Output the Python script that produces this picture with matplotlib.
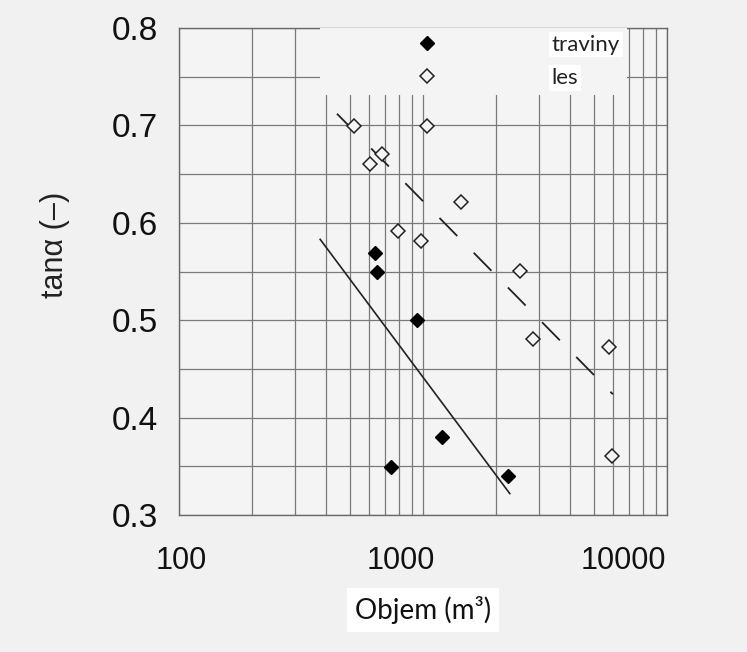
import matplotlib
matplotlib.use("Agg")
import matplotlib.pyplot as plt
import matplotlib.transforms as mtransforms
from matplotlib.ticker import LogLocator, MultipleLocator, NullFormatter
import numpy as np

# values
traviny_x = [636, 647, 738, 943, 1193, 2233]
traviny_y = [0.569, 0.550, 0.349, 0.500, 0.380, 0.340]

les_x = [522, 607, 678, 793, 978, 1035, 1430, 2509, 2826, 5781, 5968]
les_y = [0.699, 0.660, 0.671, 0.592, 0.581, 0.699, 0.621, 0.551, 0.481, 0.472, 0.361]

# trend lines (end points)
trend_traviny_x = [379, 2268]
trend_traviny_y = [0.583, 0.322]
trend_les_x = [444, 6000]
trend_les_y = [0.712, 0.424]

xticks = [100, 1000, 10000]
xtick_labels = ["100", "1000", "10000"]
yticks = [0.3, 0.4, 0.5, 0.6, 0.7, 0.8]
ytick_labels = ["0.3", "0.4", "0.5", "0.6", "0.7", "0.8"]

bg = "#f1f1f1"
W, H = 747, 652

fig = plt.figure(figsize=(W / 100, H / 100), dpi=100, facecolor=bg)
ax = fig.add_axes([179 / W, 1 - 515 / H, (667 - 179) / W, (515 - 28) / H])
ax.set_facecolor("#f4f4f4")

# trend lines
ax.plot(trend_traviny_x, trend_traviny_y, color="#222222", lw=1.2, zorder=3)
ax.plot(trend_les_x, trend_les_y, color="#222222", lw=1.3, dashes=(14, 13), zorder=3)

# points
ax.plot(traviny_x, traviny_y, linestyle="none", marker="D", ms=7,
        color="black", zorder=4, label="traviny")
ax.plot(les_x, les_y, linestyle="none", marker="D", ms=7,
        mfc="#f4f4f4", mec="#222222", mew=1.1, zorder=4, label="les")

ax.set_xscale("log")
ax.set_xlim(100, 10000)
ax.set_ylim(0.3, 0.8)

ax.xaxis.set_minor_locator(LogLocator(base=10, subs=np.arange(2, 10)))
ax.xaxis.set_minor_formatter(NullFormatter())
ax.yaxis.set_minor_locator(MultipleLocator(0.05))
ax.grid(which="both", color="#7a7a7a", lw=0.9)
ax.set_axisbelow(True)

for s in ax.spines.values():
    s.set_color("#6a6a6a")
    s.set_linewidth(1.0)

ax.tick_params(which="both", length=0)
ax.tick_params(axis="x", pad=22)
ax.tick_params(axis="y", pad=15)

ax.set_xticks(xticks)
ax.set_xticklabels(xtick_labels, fontsize=22, family="Liberation Sans", color="#111111")
ax.set_yticks(yticks)
ax.set_yticklabels(ytick_labels, fontsize=24, family="Liberation Sans", color="#111111")

# the labels in the scan sit a little left of their ticks
labs = ax.get_xticklabels()
for lab, dx in zip(labs, [2, -22, -44]):
    lab.set_transform(lab.get_transform() +
                      mtransforms.ScaledTranslation(dx / 100, 0, fig.dpi_scale_trans))

ax.set_ylabel("tanα (–)", fontsize=22, family="Liberation Sans", color="#222222")
ax.yaxis.set_label_coords(-0.223, 0.555)

ax.set_xlabel("Objem (m³)", fontsize=20, family="Lato", color="#111111",
              bbox=dict(fc="white", ec="none", pad=6))
ax.xaxis.set_label_coords(0.5, -0.166)

leg = ax.legend(loc="upper left", bbox_to_anchor=(0.289, 1.0), borderaxespad=0,
                borderpad=0.3, handlelength=9.0, handletextpad=1.12, labelspacing=0.6,
                prop={"family": "Lato", "size": 16}, facecolor="#f4f4f4",
                edgecolor="none", framealpha=1, fancybox=False, numpoints=1)
for t in leg.get_texts():
    t.set_color("#222222")
    t.set_bbox(dict(fc="white", ec="none", pad=2))

fig.savefig("out.png", dpi=100, facecolor=fig.get_facecolor())
